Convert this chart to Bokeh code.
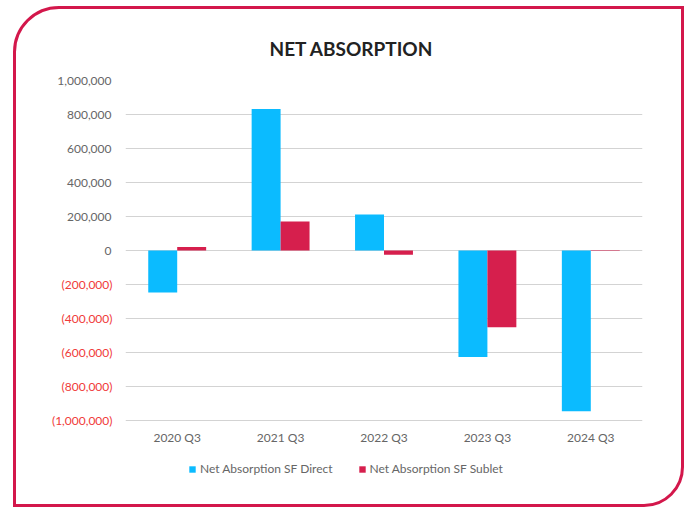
from bokeh.plotting import figure
from bokeh.models import (FactorRange, Range1d, ColumnDataSource, FixedTicker, LabelSet,
                          Legend, LegendItem, LinearAxis, Title)
from bokeh.core.properties import value
from bokeh.transform import dodge
from bokeh.embed import file_html
from bokeh.resources import INLINE

# ---- data ----
periods = ["2020 Q3", "2021 Q3", "2022 Q3", "2023 Q3", "2024 Q3"]
direct = [-247000, 833000, 212000, -627000, -945000]
sublet = [20000, 171000, -25000, -451000, -3000]
y_ticks = [-1000000, -800000, -600000, -400000, -200000, 0, 200000, 400000, 600000, 800000, 1000000]
series_names = ["Net Absorption SF Direct", "Net Absorption SF Sublet"]
title_text = "NET ABSORPTION"

DIRECT_C = "#0BBBFF"
SUBLET_C = "#D61F4D"
FRAME_C = "#D3174B"
FONT = "Lato"
GRAY = "#666666"

# ---- layout constants (pixels) ----
W, H = 665, 495
BORDER = 3
CW, CH = W + 2 * BORDER, H + 2 * BORDER   # actual canvas size
TOP, BOTTOM_PAD, LEFT, RIGHT = 71, 5, 109, 45
PLOT_H = 340                      # height of the value area (y_min .. y_max)
FRAME_H = CH - TOP - BOTTOM_PAD
y_min, y_max = min(y_ticks), max(y_ticks)
upp = (y_max - y_min) / PLOT_H    # data units per pixel
y_start = y_min - (FRAME_H - PLOT_H) * upp

def fmt(v):
    s = "{:,}".format(abs(v))
    return "(" + s + ")" if v < 0 else s

src = ColumnDataSource(dict(period=periods, direct=direct, sublet=sublet))

p = figure(width=W, height=H, x_range=FactorRange(*periods, range_padding=0),
           y_range=Range1d(y_start, y_max), output_backend="svg", toolbar_location=None,
           min_border_left=LEFT, min_border_right=RIGHT, min_border_top=TOP,
           min_border_bottom=BOTTOM_PAD, x_axis_location=None)
p.outline_line_color = None
p.background_fill_color = "white"
p.border_fill_color = None
p.styles = {"border": "%dpx solid %s" % (BORDER, FRAME_C),
            "border-top-left-radius": "46px", "border-top-right-radius": "0px",
            "border-bottom-right-radius": "40px", "border-bottom-left-radius": "0px",
            "margin-left": "13px", "margin-top": "6px", "background-color": "white",
            "box-sizing": "content-box"}

r1 = p.vbar(x=dodge("period", -0.14, range=p.x_range), top="direct", bottom=0, width=0.28,
            source=src, fill_color=DIRECT_C, line_color=None)
r2 = p.vbar(x=dodge("period", 0.14, range=p.x_range), top="sublet", bottom=0, width=0.28,
            source=src, fill_color=SUBLET_C, line_color=None)

def style_axis(ax, color, standoff):
    ax.axis_line_color = None
    ax.major_tick_line_color = None
    ax.minor_tick_line_color = None
    ax.major_tick_out = 0
    ax.major_tick_in = 0
    ax.minor_tick_out = 0
    ax.minor_tick_in = 0
    ax.major_label_standoff = standoff
    ax.major_label_text_font = FONT
    ax.major_label_text_font_size = "12px"
    ax.major_label_text_color = color

pos_ticks = [t for t in y_ticks if t >= 0]
neg_ticks = [t for t in y_ticks if t < 0]

yax_pos = p.yaxis[0]
yax_pos.ticker = FixedTicker(ticks=pos_ticks)
yax_pos.major_label_overrides = {t: fmt(t) for t in pos_ticks}
style_axis(yax_pos, GRAY, 14)

yax_neg = LinearAxis(ticker=FixedTicker(ticks=neg_ticks))
yax_neg.major_label_overrides = {t: fmt(t) for t in neg_ticks}
style_axis(yax_neg, "#F03A3A", -58)
p.add_layout(yax_neg, "left")

p.xgrid.grid_line_color = None
p.ygrid.ticker = FixedTicker(ticks=y_ticks)
p.ygrid.grid_line_color = "#D3D3D3"

# category labels under the value area
cat_src = ColumnDataSource(dict(period=periods, y=[y_min - 17 * upp] * len(periods)))
p.add_layout(LabelSet(x="period", y="y", text="period", source=cat_src, text_align="center",
                      text_baseline="middle", text_font=value(FONT), text_font_size="12px",
                      text_color=GRAY))

legend = Legend(items=[LegendItem(label=series_names[0], renderers=[r1]),
                       LegendItem(label=series_names[1], renderers=[r2])],
                orientation="horizontal", location=(63, 29), margin=0, spacing=25,
                label_standoff=4, padding=10,
                label_text_font=FONT, label_text_font_size="12px", label_text_color=GRAY,
                glyph_width=8, glyph_height=8, border_line_color=None,
                background_fill_alpha=0)
p.add_layout(legend, "center")

p.add_layout(Title(text=title_text, align="left", offset=144, text_font=FONT,
                   text_font_size="19px", text_font_style="bold", text_color="#222222",
                   standoff=41), "above")

open("out.html", "w").write(file_html(p, INLINE))
